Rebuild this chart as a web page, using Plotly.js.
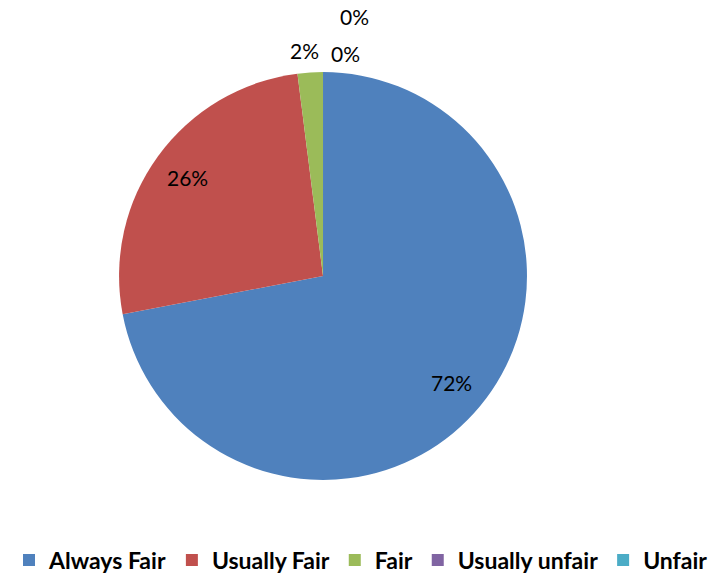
<!DOCTYPE html>
<html>
<head>
<meta charset="utf-8">
<script src="https://cdn.plot.ly/plotly-3.0.1.min.js"></script>
<style>html,body{margin:0;padding:0;background:#fff;}#chart{width:722px;height:573px;}</style>
</head>
<body>
<div id="chart"></div>
<script>
const categories = ["Always Fair", "Usually Fair", "Fair", "Usually unfair", "Unfair"];
const values = [72, 26, 2, 0, 0];
const colors = ["#4F81BD", "#C0504D", "#9BBB59", "#8064A2", "#4BACC6"];

// label placement style: radius fraction and pixel nudges (Excel-like label layout)
const labelRadius = [0.82, 0.82, 1.105, 1.105, 1.105];
const labelNudge = [[0, 0], [0, 0], [-4, -1], [22, 3], [31, -34]];

const W = 722, H = 573;
const domX = [0.1649, 0.7299], domY = [0.1623, 0.8743];
const FONT = "Lato, 'Open Sans', sans-serif";

const trace = {
  type: "pie",
  labels: categories,
  values: values,
  sort: false,
  direction: "clockwise",
  rotation: 0,
  marker: { colors: colors, line: { width: 0 } },
  textinfo: "none",
  domain: { x: domX, y: domY },
  hoverinfo: "label+percent"
};

// label annotations placed from the data (mid-angle of each slice)
const total = values.reduce((a, b) => a + b, 0);
const cx = W * (domX[0] + domX[1]) / 2;
const cy = H * (1 - (domY[0] + domY[1]) / 2);
const R = Math.min(W * (domX[1] - domX[0]), H * (domY[1] - domY[0])) / 2;
const annotations = [];
let cum = 0;
values.forEach((v, i) => {
  const mid = (cum + v / 2) / total * 2 * Math.PI;
  cum += v;
  const r = R * labelRadius[i];
  const px = cx + r * Math.sin(mid) + labelNudge[i][0];
  const py = cy - r * Math.cos(mid) + labelNudge[i][1];
  annotations.push({
    xref: "paper", yref: "paper",
    x: px / W, y: 1 - py / H,
    xanchor: "center", yanchor: "middle",
    text: Math.round(v / total * 100) + "%",
    showarrow: false,
    font: { family: FONT, size: 21, color: "#000" }
  });
});

const layout = {
  width: W, height: H,
  margin: { l: 0, r: 0, t: 0, b: 0, autoexpand: false },
  paper_bgcolor: "#fff",
  showlegend: true,
  annotations: annotations,
  legend: {
    orientation: "h",
    x: 361 / W, xanchor: "center",
    y: 1 - 560 / H, yanchor: "middle",
    font: { family: FONT, size: 23, color: "#000", weight: "bold" },
    traceorder: "normal"
  }
};

Plotly.newPlot("chart", [trace], layout, { displayModeBar: false, staticPlot: true });
</script>
</body>
</html>
